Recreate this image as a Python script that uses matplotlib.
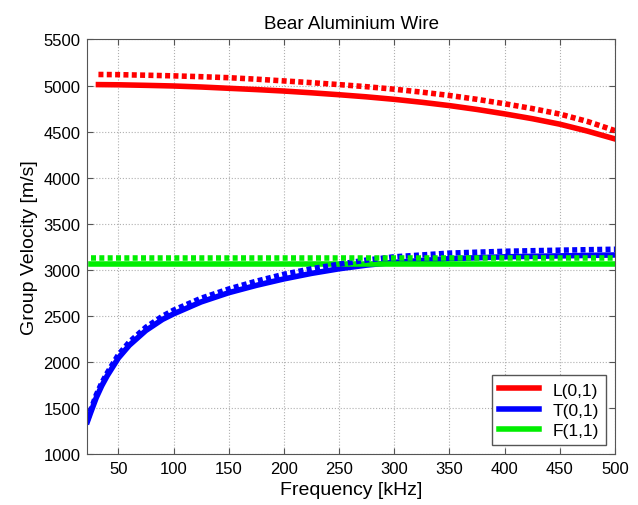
import matplotlib
matplotlib.use("Agg")
import matplotlib.pyplot as plt

plt.rcParams['font.family'] = ['Liberation Sans', 'DejaVu Sans']

# ---------- DATA ----------
freq_L = [32, 50, 75, 100, 125, 150, 175, 200, 225, 250, 275, 300, 325, 350, 375, 400, 425, 450, 475, 500]
L_solid = [5010, 5008, 5002, 4995, 4984, 4970, 4956, 4940, 4921, 4900, 4877, 4850, 4818, 4782, 4740, 4692, 4640, 4580, 4505, 4420]
L_dash = [5120, 5118, 5112, 5105, 5096, 5085, 5069, 5050, 5031, 5010, 4987, 4960, 4928, 4892, 4850, 4802, 4750, 4690, 4610, 4510]

freq_T = [22, 25, 30, 35, 40, 50, 60, 75, 90, 100, 125, 150, 175, 200, 225, 250, 275, 300, 350, 400, 450, 500]
T_solid = [1350, 1450, 1610, 1740, 1850, 2040, 2180, 2340, 2460, 2520, 2650, 2750, 2830, 2900, 2960, 3010, 3050, 3080, 3120, 3140, 3150, 3160]
T_dash = [1370, 1475, 1640, 1770, 1880, 2075, 2215, 2375, 2495, 2560, 2690, 2790, 2875, 2950, 3010, 3060, 3105, 3140, 3180, 3200, 3212, 3222]

freq_F = [25, 500]
F_solid = [3065, 3065]
F_dash = [3130, 3130]
# -------------------------------------------------

fig = plt.figure(figsize=(6.38, 5.06), dpi=100)
ax = fig.add_axes([0.137, 0.101, 0.827, 0.819])

dot = (0, (0.9, 0.6))
ax.plot(freq_L, L_solid, color='#ff0000', lw=4, label='L(0,1)')
ax.plot(freq_T, T_solid, color='#0000ff', lw=4, label='T(0,1)')
ax.plot(freq_F, F_solid, color='#00ee00', lw=4, label='F(1,1)')
ax.plot(freq_L, L_dash, color='#ff0000', lw=4, linestyle=dot)
ax.plot(freq_T, T_dash, color='#0000ff', lw=4, linestyle=dot)
ax.plot(freq_F, F_dash, color='#00ee00', lw=4, linestyle=dot)

ax.set_xlim(22, 500)
ax.set_ylim(1000, 5500)
ax.set_xticks(range(50, 501, 50))
ax.set_yticks(range(1000, 5501, 500))
ax.tick_params(direction='in', labelsize=12, top=True, right=True, length=4,
               color='#555555', pad=5)
ax.grid(True, linestyle=':', color='#b0b0b0', lw=0.8)
for s in ax.spines.values():
    s.set_color('#555555')

ax.set_title('Bear Aluminium Wire', fontsize=13.5, pad=8)
ax.set_xlabel('Frequency [kHz]', fontsize=14)
ax.set_ylabel('Group Velocity [m/s]', fontsize=14)

leg = ax.legend(loc='lower right', fontsize=12.5, fancybox=False, handlelength=2.3,
                borderaxespad=0.5, framealpha=1, labelspacing=0.3)
leg.get_frame().set_edgecolor('#555555')

plt.savefig('out.png', dpi=100)
